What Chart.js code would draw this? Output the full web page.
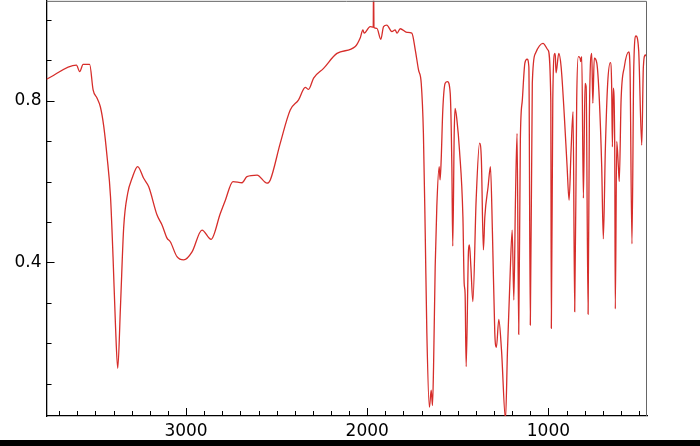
<!DOCTYPE html>
<html>
<head>
<meta charset="utf-8">
<script src="https://cdn.jsdelivr.net/npm/chart.js@4.4.1/dist/chart.umd.min.js"></script>
<style>
  html, body { margin: 0; padding: 0; background: #fff; }
  #wrap { position: relative; width: 700px; height: 440px; overflow: hidden; }
  #inner { position: absolute; left: 0; top: -5px; width: 700px; height: 452px; }
  #bar { width: 700px; height: 6px; background: #000; }
</style>
</head>
<body>
<div id="wrap"><div id="inner"><canvas id="ir"></canvas></div></div>
<div id="bar"></div>
<script>
// IR spectrum, wavenumber (cm-1) vs transmittance
const wavenumber = [3770,3605,3587,3568,3532,3513,3491,3473,3454,3436,3417,3403,3390,3377,3362,3344,3322,3298,3267,3234,3206,3160,3132,3105,3087,3050,3013,2967,2912,2862,2811,
  2783,2741,2691,2664,2608,2553,2535,2480,2425,2379,2342,2324,2296,2241,2167,2066,2039,2024,2017,1984,1967,1965,1963,1947,1925,1910,1892,1864,1846,1836,1818,1781,
  1754,1735,1717,1702,1690,1680,1671,1657,1647,1640,1634,1625,1616,1603,1598,1592,1583,1570,1557,1542,1533,1528,1520,1515,1505,1491,1472,1465,1460,1454,1441,1436,1428,1417,1399,1380,
  1370,1359,1351,1333,1320,1309,1296,1287,1274,1259,1237,1226,1213,1200,1191,1182,1173,1164,1155,1144,1130,1118,1108,1100,1089,1072,1030,1002,987,984,
  976,965,962,958,943,930,912,897,886,875,864,855,844,835,825,822,816,807,798,792,781,774,761,755,747,733,719,706,697,686,
  673,658,651,647,642,634,631,623,614,609,599,581,557,550,539,529,517,502,485,476,465,458];

const transmittance = [0.853,0.888,0.872,0.890,0.890,0.827,0.806,0.785,0.736,0.662,0.563,0.414,0.250,0.138,0.290,0.488,0.571,0.608,0.637,0.608,0.587,0.517,0.492,0.460,0.451,0.414,0.406,0.426,0.480,0.457,0.521,
  0.554,0.600,0.597,0.612,0.616,0.596,0.604,0.695,0.777,0.802,0.833,0.828,0.856,0.880,0.917,0.934,0.955,0.975,0.967,0.983,0.982,1.10,0.981,0.979,0.952,0.983,0.987,0.971,0.975,0.967,0.978,0.969,
  0.967,0.926,0.876,0.843,0.719,0.473,0.225,0.042,0.084,0.046,0.142,0.389,0.538,0.637,0.604,0.653,0.777,0.843,0.847,0.818,0.637,0.440,0.720,0.781,0.752,0.678,0.513,0.348,0.324,0.142,0.431,0.443,0.389,0.303,0.554,0.695,
  0.653,0.431,0.513,0.587,0.637,0.473,0.225,0.190,0.259,0.183,0.012,0.183,0.349,0.480,0.307,0.554,0.719,0.222,0.703,0.802,0.893,0.903,0.884,0.245,0.843,0.917,0.942,0.925,0.802,0.237,
  0.802,0.917,0.911,0.869,0.917,0.884,0.760,0.637,0.554,0.678,0.773,0.278,0.802,0.909,0.905,0.897,0.909,0.559,0.843,0.835,0.272,0.760,0.917,0.794,0.905,0.893,0.802,0.637,0.458,0.678,
  0.843,0.894,0.835,0.686,0.831,0.678,0.285,0.699,0.637,0.600,0.802,0.884,0.921,0.884,0.446,0.884,0.960,0.925,0.690,0.884,0.913,0.909];

const xMajorTicks = [3000, 2000, 1000];
const yMajorTicks = [0.4, 0.8];
const xMinorStep = 100;
const yMinorStep = 0.1;

const points = wavenumber.map((w, i) => ({ x: w, y: transmittance[i] }));

// matplotlib style: inward ticks, grey top/right spines
const frameTicks = {
  id: 'frameTicks',
  afterDraw(chart) {
    const { ctx, chartArea: a, scales: { x, y } } = chart;
    ctx.save();
    ctx.strokeStyle = '#666';
    ctx.lineWidth = 1;
    ctx.beginPath();
    ctx.moveTo(a.left, a.top + 0.5);
    ctx.lineTo(a.right - 0.5, a.top + 0.5);
    ctx.lineTo(a.right - 0.5, a.bottom);
    ctx.stroke();

    ctx.strokeStyle = '#000';
    ctx.beginPath();
    for (let v = 500; v <= 3700; v += xMinorStep) {
      const px = Math.round(x.getPixelForValue(v)) + 0.5;
      const len = xMajorTicks.includes(v) ? 8 : 5;
      ctx.moveTo(px, a.bottom);
      ctx.lineTo(px, a.bottom - len);
    }
    for (let k = 1; k <= 10; k++) {
      const v = Math.round(k * yMinorStep * 10) / 10;
      const py = Math.round(y.getPixelForValue(v)) + 0.5;
      if (py < a.top || py > a.bottom) continue;
      const len = yMajorTicks.includes(v) ? 8 : 5;
      ctx.moveTo(a.left, py);
      ctx.lineTo(a.left + len, py);
    }
    ctx.stroke();
    ctx.restore();
  }
};

new Chart(document.getElementById('ir'), {
  type: 'line',
  data: {
    datasets: [{
      data: points,
      borderColor: '#d62d2a',
      borderWidth: 1.3,
      pointRadius: 0,
      cubicInterpolationMode: 'monotone',
      fill: false
    }]
  },
  options: {
    responsive: true,
    maintainAspectRatio: false,
    animation: false,
    layout: { padding: { left: 9.5, right: 53, top: 0, bottom: 0 } },
    plugins: { legend: { display: false }, tooltip: { enabled: false } },
    scales: {
      x: {
        type: 'linear',
        reverse: true,
        min: 456,
        max: 3770,
        afterBuildTicks: (s) => { s.ticks = xMajorTicks.map(v => ({ value: v })); },
        grid: { display: true, drawOnChartArea: false, drawTicks: false },
        border: { display: true, color: '#000', width: 1.3 },
        ticks: {
          padding: 7,
          color: '#000',
          font: { family: 'DejaVu Sans', size: 17, lineHeight: 1.0 },
          callback: (v) => String(v),
          maxRotation: 0
        }
      },
      y: {
        type: 'linear',
        min: 0.02,
        max: 1.047,
        afterBuildTicks: (s) => { s.ticks = yMajorTicks.map(v => ({ value: v })); },
        grid: { display: true, drawOnChartArea: false, drawTicks: false },
        border: { display: true, color: '#000', width: 1.3 },
        ticks: {
          padding: 5,
          color: '#000',
          font: { family: 'DejaVu Sans', size: 17, lineHeight: 0.1 },
          callback: (v) => v.toFixed(1)
        }
      }
    }
  },
  plugins: [frameTicks]
});
</script>
</body>
</html>
